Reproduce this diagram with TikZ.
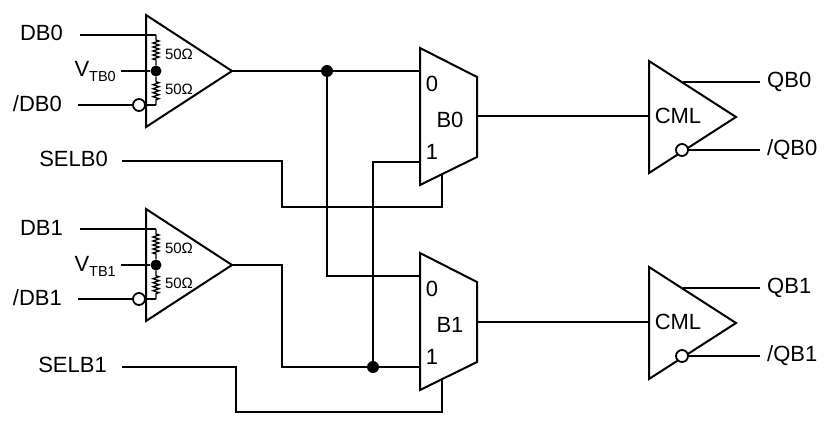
\documentclass[tikz,border=0pt]{standalone}
\usepackage{fontspec}
\setmainfont{Liberation Sans}
\usetikzlibrary{positioning,decorations.pathmorphing}

\begin{document}
\begin{tikzpicture}[
    x=1pt, y=-1pt,
    every node/.style={font=\fontsize{22}{24}\selectfont},
    wire/.style={draw, line width=1.7pt},
    block/.style={draw, line width=2pt, line join=miter, fill=white},
    resistor/.style={decorate, decoration={zigzag, amplitude=3pt, segment length=4pt, pre length=5pt, post length=5pt}},
    inlabel/.style={anchor=east, inner ysep=0pt, text height=16pt, text depth=4pt},
    outlabel/.style={anchor=west, inner ysep=0pt, inner xsep=7pt, text height=16pt, text depth=5pt},
    tag/.style={inner sep=0pt},
    ohm/.style={inner sep=0pt, font=\fontsize{15}{16}\selectfont},
    dot/.style={circle, fill=black, inner sep=0pt, minimum size=12pt},
    smalldot/.style={circle, fill=black, inner sep=0pt, minimum size=11pt},
    bubble/.style={circle, draw, line width=1.8pt, fill=white, inner sep=0pt, minimum size=12pt}]

    \useasboundingbox (0,0) rectangle (829,420);

    % Input receivers, multiplexers and output drivers
    \foreach \n/\dy/\my/\cy in {0/0/0/0, 1/194/205/206} {
        \coordinate (amp\n top) at (146,15+\dy);
        \coordinate (amp\n low) at (146,127+\dy);
        \coordinate (amp\n out) at (232,71+\dy);
        \draw [block] (amp\n top) -- (amp\n out) -- (amp\n low) -- cycle;

        \coordinate (mux\n a) at (420,48+\my);
        \coordinate (mux\n b) at (477,77+\my);
        \coordinate (mux\n out) at (477,116+\cy);
        \coordinate (mux\n c) at (477,157+\my);
        \coordinate (mux\n d) at (420,185+\my);
        \coordinate (mux\n sel) at (442,174+\my);
        \draw [block] (mux\n a) -- (mux\n b) -- (mux\n c) -- (mux\n d) -- cycle;
        \node [tag] (mux\n zero) at (432,84+\my) {0};
        \node [tag] (mux\n one) at (432,152+\my) {1};
        \node [tag] (mux\n name) at (450,120+\my) {B\n};

        \coordinate (cml\n top) at (649,61+\cy);
        \coordinate (cml\n low) at (649,173+\cy);
        \coordinate (cml\n tip) at (736,117+\cy);
        \coordinate (cml\n in) at (649,116+\cy);
        \coordinate (cml\n pos) at (683,82+\cy);
        \draw [block] (cml\n top) -- (cml\n tip) -- (cml\n low) -- cycle;
        \node [tag] (cml\n name) at (678,116+\cy) {CML};
        \node [bubble] (cml\n neg) at (682,150+\cy) {};

        % Termination network
        \node [inlabel, inner xsep=17pt] (DB\n) at (80,35+\dy) {DB\n};
        \node [inlabel, inner xsep=16pt] (nDB\n) at (78,105+\dy) {/DB\n};
        \node [inlabel, inner xsep=5pt] (VTB\n) at (121,71+\dy) {V\raisebox{-5pt}{\fontsize{14.5}{15}\selectfont TB\n}};
        \coordinate (res\n top) at (156,35+\dy);
        \coordinate (res\n low) at (156,105+\dy);
        \node [smalldot] (vt\n) at (156,71+\dy) {};
        \node [bubble] (inv\n) at (139,105+\dy) {};
        \draw [wire] (DB\n.east) -- (res\n top);
        \draw [wire] (VTB\n.east) -- (vt\n);
        \draw [wire] (nDB\n.east) -- (inv\n);
        \draw [wire] (inv\n) -- (res\n low);
        \draw [wire, line width=1.3pt, resistor] (res\n top) -- (vt\n);
        \draw [wire, line width=1.3pt, resistor] (vt\n) -- (res\n low);
        \node [ohm] (rup\n) at (179,54+\dy) {50Ω};
        \node [ohm] (rdn\n) at (179,89+\dy) {50Ω};

        % Outputs
        \node [outlabel] (QB\n) at (760,82+\cy) {QB\n};
        \node [outlabel] (nQB\n) at (760,150+\cy) {/QB\n};
        \draw [wire] (cml\n pos) -- (QB\n.west);
        \draw [wire] (cml\n neg) -- (nQB\n.west);
        \draw [wire] (mux\n out) -- (cml\n in);
    }

    % Select labels
    \node [inlabel, inner xsep=14pt, text depth=6pt] (SELB0) at (122,161) {SELB0};
    \node [inlabel, inner xsep=15pt, text depth=6pt] (SELB1) at (122,367) {SELB1};

    % Routing between receivers and multiplexers
    \coordinate (mux0in0) at (420,71);
    \coordinate (mux0in1) at (420,162);
    \coordinate (mux1in0) at (420,276);
    \coordinate (mux1in1) at (420,367);
    \coordinate (bend1) at (282,367);
    \coordinate (sel0) at (282,207);
    \coordinate (sel1) at (236,412);
    \node [dot] (split0) at (327,71) {};
    \node [dot] (split1) at (373,367) {};

    \draw [wire] (amp0out) -- (split0);
    \draw [wire] (split0) -- (mux0in0);
    \draw [wire] (split0) |- (mux1in0);
    \draw [wire] (amp1out) -| (bend1) -- (split1);
    \draw [wire] (split1) -- (mux1in1);
    \draw [wire] (mux0in1) -| (split1);
    \draw [wire] (SELB0.east) -| (sel0) -| (mux0sel);
    \draw [wire] (SELB1.east) -| (sel1) -| (mux1sel);
\end{tikzpicture}
\end{document}
